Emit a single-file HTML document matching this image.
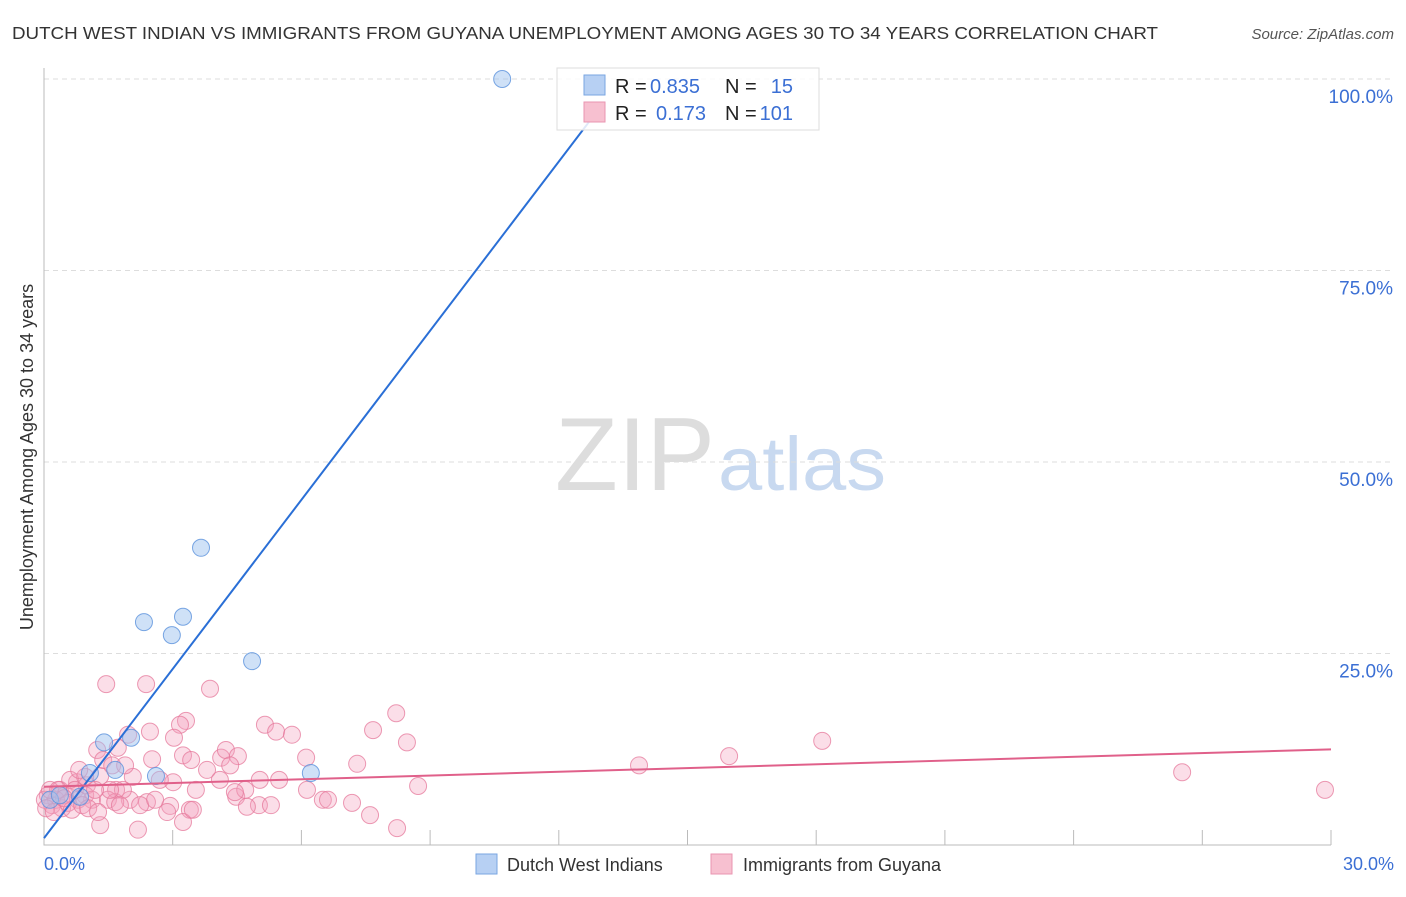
<!DOCTYPE html>
<html><head><meta charset="utf-8"><style>
body{margin:0;background:#fff;font-family:"Liberation Sans",sans-serif;}
svg text{font-family:"Liberation Sans",sans-serif;}
</style></head><body>
<svg id="c" width="1406" height="892">
<text x="12" y="39" font-size="17.5" fill="#333" textLength="1146" lengthAdjust="spacingAndGlyphs">DUTCH WEST INDIAN VS IMMIGRANTS FROM GUYANA UNEMPLOYMENT AMONG AGES 30 TO 34 YEARS CORRELATION CHART</text>
<text x="1394" y="39" font-size="15" fill="#555" font-style="italic" text-anchor="end">Source: ZipAtlas.com</text>
<text x="555" y="490" font-size="104" fill="#ddd" font-family="Liberation Serif" textLength="160" lengthAdjust="spacingAndGlyphs">ZIP</text>
<text x="718" y="490" font-size="76" fill="#c8d9f0" textLength="168" lengthAdjust="spacingAndGlyphs">atlas</text>
<text transform="translate(33,457) rotate(-90)" font-size="18" fill="#333" text-anchor="middle">Unemployment Among Ages 30 to 34 years</text>
<g id="grid"></g><g id="pts"></g><g id="lines"></g>
<rect x="557" y="68" width="262" height="62" fill="#fff" fill-opacity="0.85" stroke="#ddd"/>
<rect x="584" y="75" width="21" height="20" fill="#b7d0f3" stroke="#7aa6e2"/>
<rect x="584" y="102" width="21" height="20" fill="#f7c0d0" stroke="#ea95b1"/>
<g font-size="20">
<text x="615" y="93" fill="#222">R =</text><text x="650" y="93" fill="#3b6fd4">0.835</text>
<text x="725" y="93" fill="#222">N =</text><text x="793" y="93" fill="#3b6fd4" text-anchor="end">15</text>
<text x="615" y="120" fill="#222">R =</text><text x="656" y="120" fill="#3b6fd4">0.173</text>
<text x="725" y="120" fill="#222">N =</text><text x="793" y="120" fill="#3b6fd4" text-anchor="end">101</text>
</g>
<text x="44" y="870" font-size="18" fill="#3b6fd4">0.0%</text>
<text x="1394" y="870" font-size="18" fill="#3b6fd4" text-anchor="end">30.0%</text>
<rect x="476" y="854" width="21" height="20" fill="#b7d0f3" stroke="#7aa6e2"/>
<text x="507" y="871" font-size="18" fill="#333">Dutch West Indians</text>
<rect x="711" y="854" width="21" height="20" fill="#f7c0d0" stroke="#ea95b1"/>
<text x="743" y="871" font-size="18" fill="#333">Immigrants from Guyana</text>
</svg>
<script>
const yTicks=[25,50,75,100];
const xTicks=[0,3,6,9,12,15,18,21,24,27,30];
const blueX=[10.68,3.66,2.33,3.24,2.98,4.85,1.40,2.03,1.66,1.07,2.61,6.22,0.14,0.37,0.84];
const blueY=[100,38.8,29.1,29.8,27.4,24.0,13.4,14.0,9.8,9.4,9.0,9.4,5.9,6.5,6.3];
const pinkX=[1.45,2.38,3.87,3.31,3.17,3.03,2.47,1.96,1.24,1.72,2.52,3.24,3.43,3.80,4.13,4.24,4.52,5.15,5.41,5.78,6.11,7.30,7.67,8.21,8.46,8.72,13.87,15.97,18.14,26.53,29.86,3.01,2.70,2.07,1.31,0.77,1.00,1.68,2.00,2.40,2.94,3.40,3.24,2.19,1.31,4.48,4.69,5.03,5.01,5.29,4.73,6.13,6.50,6.62,7.18,7.60,8.23,5.48,4.45,0.37,0.49,0.61,0.72,0.96,1.12,0.09,0.19,0.28,0.42,0.02,0.14,1.49,1.66,1.84,1.54,1.19,0.79,0.56,0.65,0.89,1.03,0.33,0.05,0.23,0.47,1.38,1.59,2.24,2.59,2.87,3.47,1.77,1.26,0.96,0.82,3.54,4.10,4.34,1.89];
const pinkY=[21.0,21.0,20.4,16.2,15.7,14.0,14.8,14.4,12.4,12.7,11.2,11.7,11.1,9.8,11.4,12.4,11.6,15.7,14.8,14.4,11.4,10.6,15.0,17.2,13.4,7.7,10.4,11.6,13.6,9.5,7.2,8.2,8.5,8.9,9.0,8.2,7.8,7.2,5.9,5.6,5.1,4.6,3.0,2.0,2.6,6.3,7.2,8.5,5.2,5.2,5.0,7.2,5.9,5.9,5.5,3.9,2.2,8.5,6.9,7.2,6.5,8.5,7.2,6.5,5.9,6.5,5.2,5.9,4.8,5.9,7.2,5.9,5.6,7.2,7.2,7.2,5.9,5.5,4.6,5.2,4.8,7.2,4.8,4.3,6.1,11.1,10.4,5.2,5.9,4.3,4.6,5.2,4.3,8.9,9.8,7.2,8.5,10.4,10.4];
const blueLine=[0.9,7.36];   // intercept, slope
const pinkLine=[7.6,0.163];
const NS='http://www.w3.org/2000/svg';
const X=v=>44+v/30*1287, Y=v=>845-v/100*766;
function mk(t,a,p){const e=document.createElementNS(NS,t);for(const k in a)e.setAttribute(k,a[k]);p.appendChild(e);return e;}
const g=document.getElementById('grid');
yTicks.forEach(t=>{
 const l=mk('line',{x1:44,x2:1394,y1:Y(t),y2:Y(t),stroke:'#ddd','stroke-dasharray':'5,4'},g);
 
 
 const tx=mk('text',{x:1393,y:Y(t)+24,'font-size':19,fill:'#3b6fd4','text-anchor':'end'},g);
 tx.textContent=t.toFixed(1)+'%';
 
 
});
const ax=mk('path',{d:'M44 68V845H1331',stroke:'#bbb',fill:'none'},g);


xTicks.forEach(t=>{
 const l=mk('line',{x1:X(t),x2:X(t),y1:830,y2:845,stroke:'#bbb'},g);
 
 
});
const P=document.getElementById('pts');
pinkX.forEach((v,i)=>{
 const c=mk('circle',{cx:X(v),cy:Y(pinkY[i]),r:8.5,fill:'rgba(243,160,188,0.35)',stroke:'rgba(230,120,155,0.75)','stroke-width':1},P);
 
 
});
blueX.forEach((v,i)=>{
 const c=mk('circle',{cx:X(v),cy:Y(blueY[i]),r:8.5,fill:'rgba(160,195,240,0.5)',stroke:'rgba(90,145,220,0.8)','stroke-width':1},P);
 
 
});
const L=document.getElementById('lines');
const bx2=(100-blueLine[0])/blueLine[1]*0.95;
const bl=mk('line',{x1:X(0),y1:Y(blueLine[0]),x2:X(bx2),y2:Y(blueLine[0]+blueLine[1]*bx2),stroke:'#2a6fd6','stroke-width':2},L);


const pl=mk('line',{x1:X(0),y1:Y(pinkLine[0]),x2:X(30),y2:Y(pinkLine[0]+pinkLine[1]*30),stroke:'#e0608a','stroke-width':2},L);


</script>
</body></html>
